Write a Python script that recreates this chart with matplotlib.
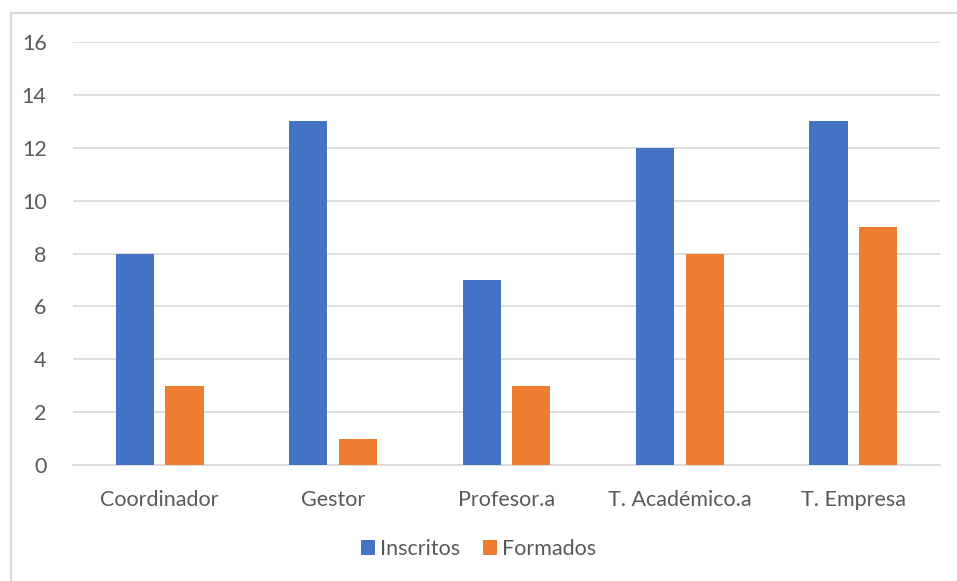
import matplotlib
matplotlib.use("Agg")
import matplotlib.pyplot as plt
import numpy as np
from matplotlib.lines import Line2D

categories = ["Coordinador", "Gestor", "Profesor.a", "T. Académico.a", "T. Empresa"]
inscritos = [8, 13, 7, 12, 13]
formados = [3, 1, 3, 8, 9]
yticks = [0, 2, 4, 6, 8, 10, 12, 14, 16]

plt.rcParams['font.family'] = ['Lato', 'DejaVu Sans']
text_color = "#595959"
blue = "#4472C4"
orange = "#ED7D31"

W, H = 957, 581
fig = plt.figure(figsize=(W / 100, H / 100), dpi=100)

# outer chart border (left and top edges)
bx, by = 10.5 / W, 1 - 12.5 / H
fig.lines.append(Line2D([bx, bx], [0, by], transform=fig.transFigure,
                        color="#D9D9D9", linewidth=1.5))
fig.lines.append(Line2D([bx, 1], [by, by], transform=fig.transFigure,
                        color="#D9D9D9", linewidth=1.5))

ax = fig.add_axes([73 / W, 1 - 465 / H, (940 - 73) / W, (465 - 42) / H])
x = np.arange(len(categories))
bw = 0.22
off = 0.143
ax.bar(x - off, inscritos, bw, color=blue, label="Inscritos", zorder=3)
ax.bar(x + off, formados, bw, color=orange, label="Formados", zorder=3)

ax.set_xlim(-0.5, len(categories) - 0.5)
ax.set_ylim(0, 16)
ax.set_yticks(yticks)
ax.set_xticks(x)
ax.set_xticklabels(categories)
ax.grid(axis="y", color="#D9D9D9", linewidth=1.2, zorder=0)
for s in ["top", "right", "left"]:
    ax.spines[s].set_visible(False)
ax.spines["bottom"].set_color("#D9D9D9")
ax.spines["bottom"].set_linewidth(1.2)
ax.tick_params(axis="both", length=0, colors=text_color, labelsize=15.5)
ax.tick_params(axis="x", pad=18)
ax.tick_params(axis="y", pad=19)

fig.legend(loc="center", bbox_to_anchor=(0.5, 1 - 549 / H), ncol=2, frameon=False,
           fontsize=15.5, labelcolor=text_color, handlelength=0.65, handleheight=0.65,
           handletextpad=0.2, columnspacing=1.1)

fig.savefig("out.png", dpi=100)
